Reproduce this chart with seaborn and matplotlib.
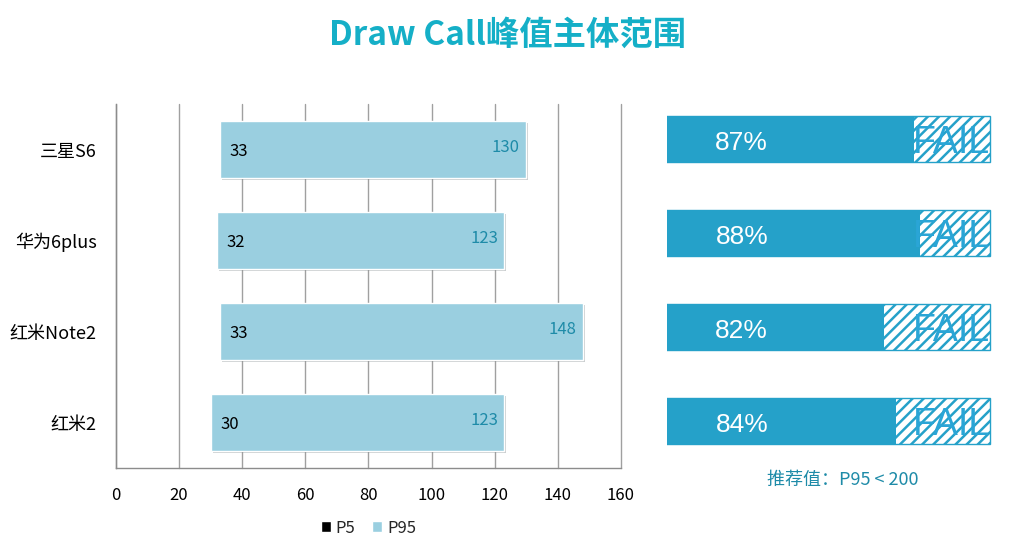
import matplotlib
matplotlib.use('Agg')
import matplotlib.pyplot as plt
import matplotlib.patheffects as pe
from matplotlib.patches import Patch
import seaborn as sns
import pandas as pd

# data
devices = ['三星S6', '华为6plus', '红米Note2', '红米2']
p5 = [33, 32, 33, 30]
p95 = [130, 123, 148, 123]
pass_rate = [87, 88, 82, 84]
full_scale = [100, 100, 100, 100]
x_ticks = [0, 20, 40, 60, 80, 100, 120, 140, 160]
legend_labels = ['P5', 'P95']

light_blue = '#9ACFE0'
teal = '#25A1C9'
label_teal = '#1E8BA8'
title_teal = '#15AFC7'

sns.set_theme(style='white')
plt.rcParams['font.family'] = ['Noto Sans CJK SC', 'DejaVu Sans']
plt.rcParams['hatch.linewidth'] = 1.8

fig = plt.figure(figsize=(10.3, 5.48), dpi=100)

# left: floating P5..P95 bars
ax = fig.add_axes([0.1126, 0.146, 0.4903, 0.664])
df = pd.DataFrame({'device': devices, 'p5': p5, 'p95': p95})
df['span'] = df['p95'] - df['p5']
sns.barplot(data=df, x='span', y='device', left=p5, color=light_blue,
            saturation=1, width=0.63, edgecolor='white', linewidth=1, ax=ax)
for patch in ax.patches:
    patch.set_path_effects([pe.SimplePatchShadow(offset=(1.5, -1.5), alpha=0.25),
                            pe.Normal()])

ax.set_xlim(0, 160)
ax.set_xticks(x_ticks)
ax.grid(axis='x', color='#a0a0a0', linewidth=1)
for line in ax.get_xgridlines():
    line.set_clip_on(False)
ax.set_axisbelow(True)
for side in ['top', 'right']:
    ax.spines[side].set_visible(False)
for side in ['left', 'bottom']:
    ax.spines[side].set_color('#8c8c8c')
    ax.spines[side].set_linewidth(1)
ax.tick_params(axis='x', length=0, pad=14, labelsize=12, labelcolor='black')
ax.tick_params(axis='y', length=0, pad=14, labelsize=13, labelcolor='black')
ax.set_xlabel('')
ax.set_ylabel('')

for i, (lo, hi) in enumerate(zip(p5, p95)):
    ax.text(lo + 3, i + 0.02, str(lo), ha='left', va='center', fontsize=12, color='black')
    ax.text(hi - 2, i - 0.02, str(hi), ha='right', va='center', fontsize=12, color=label_teal)

handles = [Patch(facecolor='black'), Patch(facecolor=light_blue)]
ax.legend(handles, legend_labels, loc='center', bbox_to_anchor=(0.5, -0.165), ncol=2,
          frameon=False, handlelength=0.6, handleheight=0.6, handletextpad=0.3,
          columnspacing=1.0, fontsize=12)

# right: pass rate bars with hatched FAIL remainder
ax2 = fig.add_axes([0.6476, 0.146, 0.3155, 0.686])
sns.barplot(x=full_scale, y=devices, color='white', width=0.49, saturation=1, ax=ax2)
for patch in ax2.patches:
    patch.set_facecolor('white')
    patch.set_edgecolor(teal)
    patch.set_hatch('///')
    patch.set_linewidth(1)
sns.barplot(x=pass_rate, y=devices, color=teal, width=0.49, saturation=1,
            linewidth=0, ax=ax2)
ax2.set_xlim(45, 100.3)
ax2.set_xticks([])
ax2.set_yticks([])
ax2.set_xlabel('')
ax2.set_ylabel('')
for side in ax2.spines:
    ax2.spines[side].set_visible(False)

tr = ax2.get_yaxis_transform()
for i, rate in enumerate(pass_rate):
    ax2.text(0.23, i + 0.04, f'{rate}%', transform=tr, ha='center', va='center',
             fontsize=19, color='white', family=['Liberation Sans', 'DejaVu Sans'])
    ax2.text(0.875, i + 0.04, 'FAIL', transform=tr, ha='center', va='center',
             fontsize=27, color='#2AA5D6', family=['Liberation Sans', 'DejaVu Sans'])

fig.text(843 / 1030, 1 - 480 / 548, '推荐值：P95 < 200', ha='center', va='center',
         fontsize=13, color=label_teal)
fig.text(0.493, 1 - 35 / 548, 'Draw Call峰值主体范围', ha='center', va='center',
         fontsize=24, weight='bold', color=title_teal)

fig.savefig('out.png', dpi=100)
